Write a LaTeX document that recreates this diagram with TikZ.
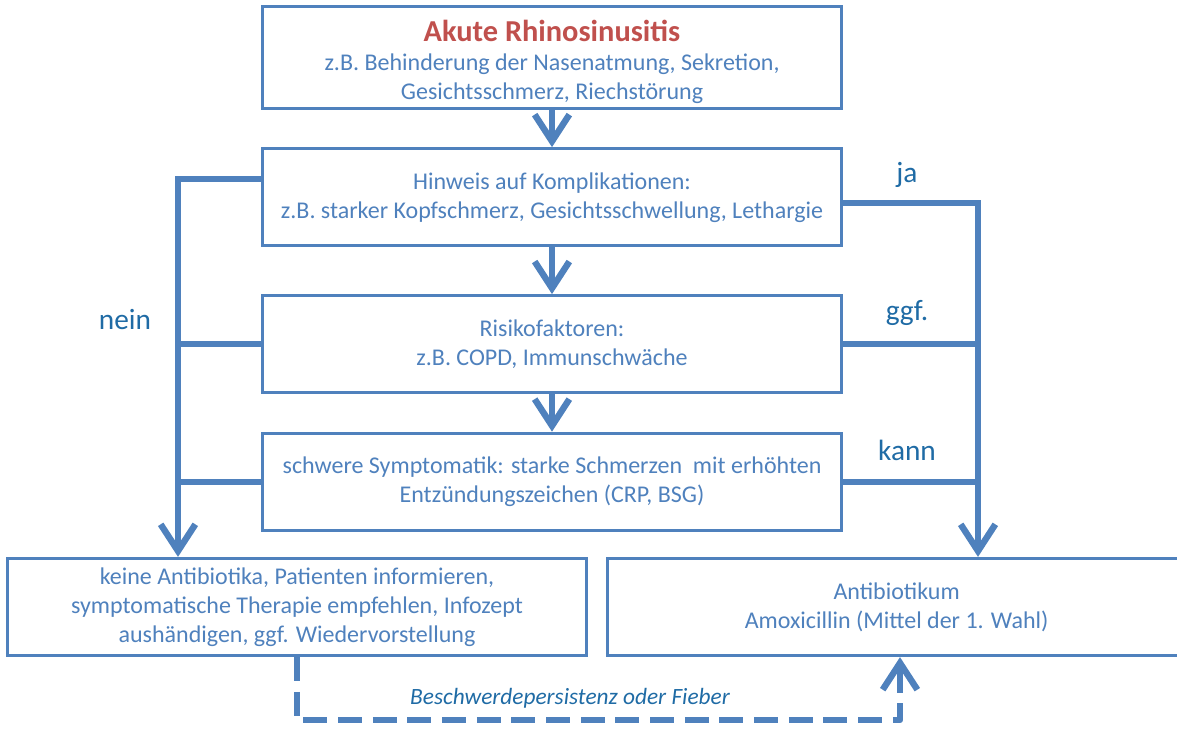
\documentclass[tikz,border=0pt]{standalone}
\usepackage{fontspec}
\setmainfont{Carlito}
\usetikzlibrary{arrows.meta,positioning}
\definecolor{officeblue}{HTML}{4F81BD}
\definecolor{officered}{HTML}{C0504D}
\definecolor{labelblue}{HTML}{1F6BA5}

\begin{document}
\begin{tikzpicture}[
  x=0.75pt, y=-0.75pt,
  node distance=28pt,
  box/.style={draw=officeblue, line width=2.2pt, fill=white, minimum width=434pt, minimum height=73pt, align=center, text=officeblue, font=\fontsize{18}{21.75}\selectfont},
  line/.style={line width=4.8pt, draw=officeblue},
  arrow/.style={line, -{Straight Barb[length=20pt,width=26pt]}},
  dasharrow/.style={arrow, dash pattern=on 18pt off 8pt, line join=round},
  lbl/.style={text=labelblue, font=\fontsize{22}{26}\selectfont}
]
\useasboundingbox (0,0) rectangle (1177,731);
\clip (0,0) rectangle (1177,731);

\node[box] (akut) at (552,57.5) {{\fontsize{22.8}{27}\selectfont\bfseries\color{officered}\rule{0pt}{23pt}Akute Rhinosinusitis}\\z.B. Behinderung der Nasenatmung, Sekretion,\\Gesichtsschmerz, Riechstörung};
\node[box, below=of akut] (hinweis) {Hinweis auf Komplikationen:\\z.B. starker Kopfschmerz, Gesichtsschwellung, Lethargie};
\node[box, below=35pt of hinweis] (risiko) {Risikofaktoren:\\z.B. COPD, Immunschwäche};
\node[box, below=of risiko] (symptomatik) {schwere Symptomatik: starke Schmerzen\ \ mit erhöhten\\Entzündungszeichen (CRP, BSG)};
\node[box] (keine) at (297,607) {keine Antibiotika, Patienten informieren,\\symptomatische Therapie empfehlen, Infozept\\aushändigen, ggf. Wiedervorstellung};
\node[box, right=13.5pt of keine] (antibiotikum) {Antibiotikum\\Amoxicillin (Mittel der 1. Wahl)};

\coordinate (nein) at (178,0);
\coordinate (ja) at (978,0);
\coordinate (rueck) at (900,720);

\draw[arrow] (akut) -- (hinweis);
\draw[arrow] (hinweis) -- (risiko);
\draw[arrow] (risiko) -- (symptomatik);

\draw[arrow] ([yshift=13.5pt]hinweis.west) -| (nein |- keine.north);
\draw[line] (risiko.west) -- (risiko.west -| nein);
\draw[line] (symptomatik.west) -- (symptomatik.west -| nein);
\draw[arrow] ([yshift=-4.5pt]hinweis.east) -| (ja |- antibiotikum.north);
\draw[line] (risiko.east) -- (risiko.east -| ja);
\draw[line] (symptomatik.east) -- (symptomatik.east -| ja);

\draw[dasharrow] (keine.south) |- (rueck) -- (rueck |- antibiotikum.south);

\node[lbl] (neinlabel) at (125,320) {nein};
\node[lbl] (jalabel) at (907,175) {ja};
\node[lbl] (ggflabel) at (907,313) {ggf.};
\node[lbl] (kannlabel) at (907,450) {kann};
\node[text=labelblue, font=\fontsize{17.5}{21}\selectfont\itshape] (persistenz) at (570,698) {Beschwerdepersistenz oder Fieber};
\end{tikzpicture}
\end{document}
